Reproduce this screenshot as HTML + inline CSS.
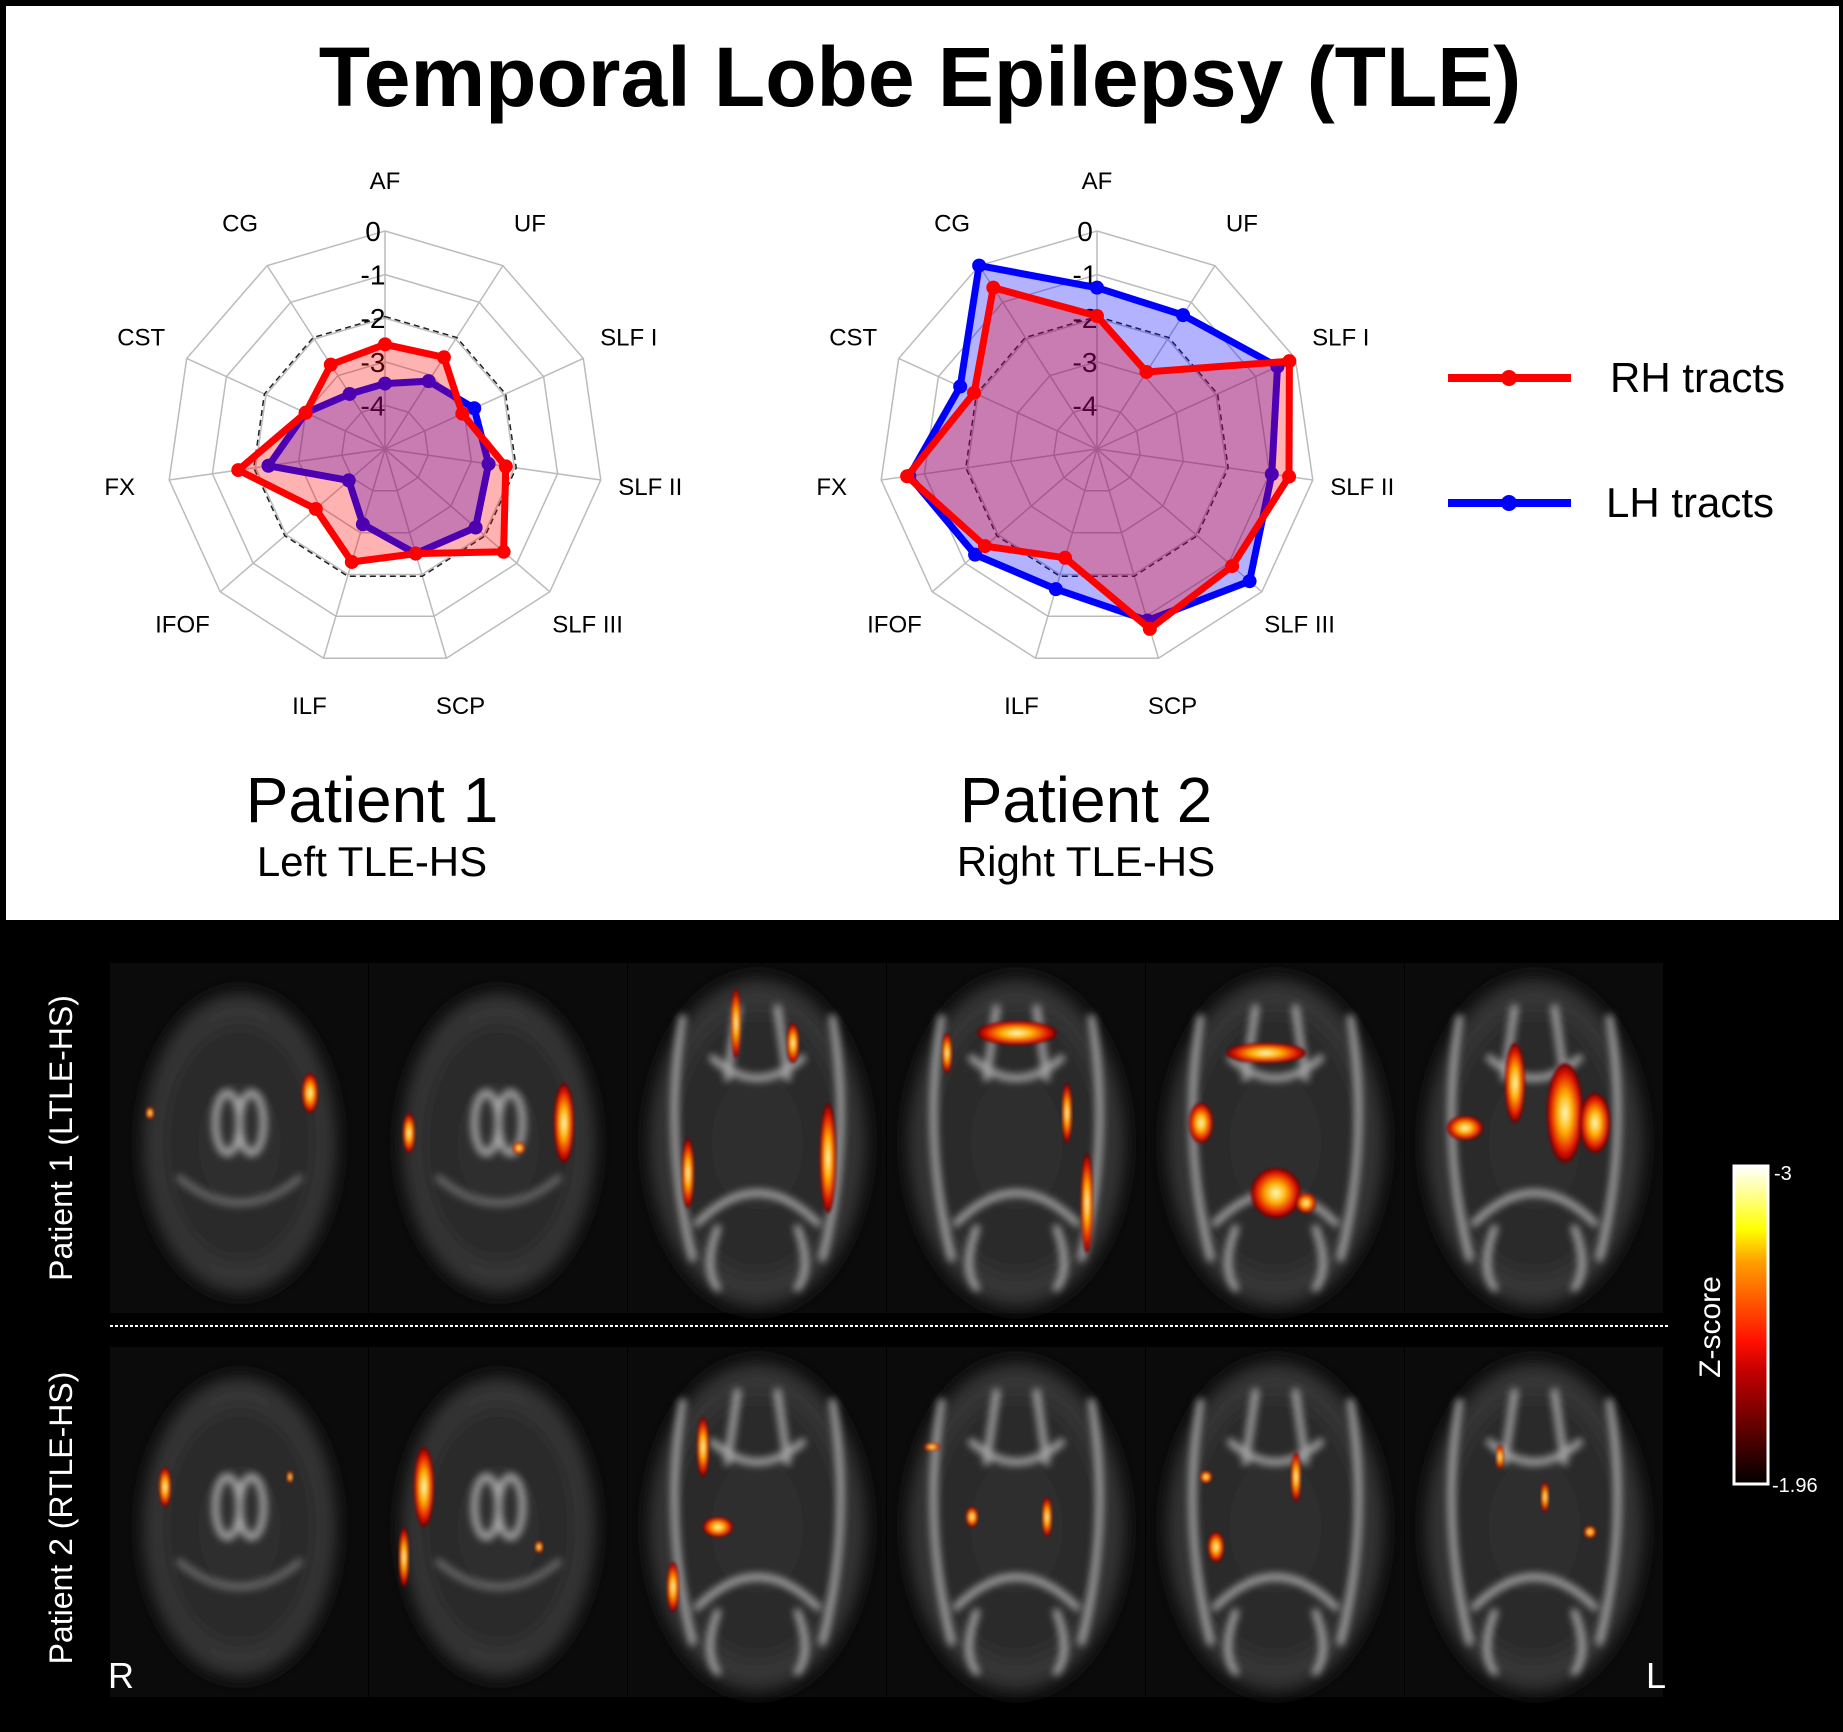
<!DOCTYPE html>
<html><head><meta charset="utf-8"><style>
html,body{margin:0;padding:0;background:#000}
svg{display:block}
text{font-family:"Liberation Sans",Arial,sans-serif}
</style></head><body>
<svg id="fig" width="1843" height="1732" viewBox="0 0 1843 1732" xmlns="http://www.w3.org/2000/svg">
<defs>
<filter id="blur6" x="-20%" y="-20%" width="140%" height="140%"><feGaussianBlur stdDeviation="8"/></filter>
<filter id="blur4" x="-20%" y="-20%" width="140%" height="140%"><feGaussianBlur stdDeviation="4"/></filter>
<filter id="blur2"><feGaussianBlur stdDeviation="1.5"/></filter>
<radialGradient id="brainG" cx="50%" cy="50%" r="50%">
<stop offset="0" stop-color="#303030"/><stop offset="0.7" stop-color="#2a2a2a"/><stop offset="0.9" stop-color="#3a3a3a"/><stop offset="1" stop-color="#0b0b0b"/></radialGradient>
<radialGradient id="hotG" cx="50%" cy="50%" r="50%">
<stop offset="0" stop-color="#ffffc0"/><stop offset="0.4" stop-color="#ffb000"/><stop offset="0.8" stop-color="#e01000"/><stop offset="1" stop-color="#600000"/></radialGradient>
<linearGradient id="cbar" x1="0" y1="1" x2="0" y2="0">
<stop offset="0" stop-color="#000"/><stop offset="0.35" stop-color="#c00000"/><stop offset="0.45" stop-color="#ff1000"/><stop offset="0.7" stop-color="#ffa000"/><stop offset="0.8" stop-color="#ffff00"/><stop offset="1" stop-color="#fff"/></linearGradient>
</defs>
<rect x="0" y="0" width="1843" height="1732" fill="#000"/>
<rect x="6" y="6" width="1833" height="914" fill="#fff"/>
<text x="920" y="106" text-anchor="middle" font-size="84" font-weight="bold">Temporal Lobe Epilepsy (TLE)</text>
<g id="radar1"></g>
<g id="radar2"></g>
<text x="372" y="822" text-anchor="middle" font-size="64">Patient 1</text>
<text x="372" y="876" text-anchor="middle" font-size="42">Left TLE-HS</text>
<text x="1086" y="822" text-anchor="middle" font-size="64">Patient 2</text>
<text x="1086" y="876" text-anchor="middle" font-size="42">Right TLE-HS</text>
<g>
<g>
<line x1="1448" y1="378" x2="1571" y2="378" stroke="#f00" stroke-width="8"/><circle cx="1509" cy="378" r="8" fill="#f00"/>
<text x="1610" y="392" font-size="42">RH tracts</text></g>
<g>
<line x1="1448" y1="503" x2="1571" y2="503" stroke="#00f" stroke-width="8"/><circle cx="1509" cy="503" r="8" fill="#00f"/>
<text x="1606" y="517" font-size="42">LH tracts</text></g>
</g>
<g id="brains"></g>
<line x1="110" y1="1326" x2="1670" y2="1326" stroke="#fff" stroke-width="2" stroke-dasharray="3,2"/>
<text transform="translate(72,1138) rotate(-90)" text-anchor="middle" fill="#fff" font-size="32">Patient 1 (LTLE-HS)</text>
<text transform="translate(72,1518) rotate(-90)" text-anchor="middle" fill="#fff" font-size="32">Patient 2 (RTLE-HS)</text>
<text x="108" y="1688" fill="#fff" font-size="36">R</text>
<text x="1646" y="1688" fill="#fff" font-size="36">L</text>
<rect x="1734" y="1166" width="34" height="318" fill="url(#cbar)" stroke="#fff" stroke-width="3"/>
<text x="1774" y="1180" fill="#fff" font-size="20">-3</text>
<text x="1772" y="1492" fill="#fff" font-size="20">-1.96</text>
<text transform="translate(1720,1327) rotate(-90)" text-anchor="middle" fill="#fff" font-size="30">Z-score</text>
</svg>
<script>
const tracts = ["AF","UF","SLF I","SLF II","SLF III","SCP","ILF","IFOF","FX","CST","CG"];
const ticks = [0,-1,-2,-3,-4];
const p1RH = [-2.6,-2.5,-3.05,-2.2,-1.4,-2.5,-2.3,-2.9,-1.6,-3.0,-2.7];
const p1LH = [-3.5,-3.15,-2.75,-2.6,-2.25,-2.5,-3.2,-3.9,-2.3,-3.0,-3.5];
const p2RH = [-1.95,-2.9,-0.15,-0.55,-0.9,-0.7,-2.4,-1.6,-0.6,-1.9,-0.6];
const p2LH = [-1.3,-1.35,-0.45,-0.95,-0.37,-0.9,-1.65,-1.3,-0.65,-1.55,0];
const threshold = -1.96;
const vMin = -5, vMax = 0;
const NS = "http://www.w3.org/2000/svg";
function mk(tag, attrs, parent){const e=document.createElementNS(NS,tag);for(const k in attrs)e.setAttribute(k,attrs[k]);parent.appendChild(e);return e;}
function rScale(v,R){return (v-vMin)/(vMax-vMin)*R;}
function pt(i,r,cx,cy){const a=i*2*Math.PI/tracts.length;return [cx+r*Math.sin(a),cy-r*Math.cos(a)];}
function poly(vals,R,cx,cy){return vals.map((v,i)=>pt(i,rScale(v,R),cx,cy).map(n=>n.toFixed(1)).join(",")).join(" ");}
function drawRadar(g,cx,cy,rh,lh){
  const R=218;
  const grid=mk("g",{},g);
  
  
  ticks.forEach(t=>{mk("polygon",{points:poly(tracts.map(()=>t),R,cx,cy),fill:"none",stroke:"#bbb","stroke-width":1.5},grid);});
  tracts.forEach((n,i)=>{const p=pt(i,R,cx,cy);mk("line",{x1:cx,y1:cy,x2:p[0],y2:p[1],stroke:"#bbb","stroke-width":1.5},grid);});
  const th=mk("polygon",{points:poly(tracts.map(()=>threshold),R,cx,cy),fill:"none",stroke:"#222","stroke-width":1.5,"stroke-dasharray":"6,4"},g);
  
  
  ticks.forEach(t=>{const tl=mk("text",{x:cx-12,y:cy-rScale(t,R)+10,"text-anchor":"middle","font-size":28},g);tl.textContent=String(t);
    
    });
  tracts.forEach((n,i)=>{const p=pt(i,268,cx,cy);const tl=mk("text",{x:p[0],y:p[1]+8,"text-anchor":"middle","font-size":24},g);tl.textContent=n;
    
    });
  [[lh,"#0000ff","rgba(0,0,255,0.3)","lh"],[rh,"#ff0000","rgba(255,0,0,0.3)","rh"]].forEach(([vals,col,fill,nm])=>{
    const s=mk("g",{},g);
    
    
    mk("polygon",{points:poly(vals,R,cx,cy),fill:fill,stroke:col,"stroke-width":7,"stroke-linejoin":"round"},s);
    vals.forEach((v,i)=>{const p=pt(i,rScale(v,R),cx,cy);const c=mk("circle",{cx:p[0],cy:p[1],r:7,fill:col},s);
      
      });
  });
}
drawRadar(document.getElementById("radar1"),385,449,p1RH,p1LH);
drawRadar(document.getElementById("radar2"),1097,449,p2RH,p2LH);

const brains=document.getElementById("brains");
const cellX0=110, cellW=259, rows=[963,1347], cellH=350;
const blobs1=[[[200,130,8,20],[40,150,4,6]],[[195,160,10,40],[40,170,6,20],[150,185,6,6]],[[108,60,5,35],[165,80,6,20],[200,195,8,55],[60,210,6,35]],[[130,70,40,12],[60,90,5,20],[180,150,5,30],[200,240,6,50]],[[120,90,40,10],[55,160,12,20],[130,230,25,25],[160,240,10,10]],[[110,120,10,40],[160,150,18,50],[60,165,18,12],[190,160,15,30]]];
const blobs2=[[[55,140,6,20],[180,130,3,6]],[[55,140,10,40],[35,210,5,30],[170,200,4,6]],[[75,100,6,30],[90,180,15,10],[45,240,6,25]],[[45,100,8,4],[85,170,6,10],[160,170,5,20]],[[60,130,6,6],[150,130,5,25],[70,200,8,15]],[[95,110,4,12],[140,150,4,15],[185,185,6,6]]];
for(let r=0;r<2;r++){
  for(let c=0;c<6;c++){
    const x=cellX0+c*cellW, y=rows[r];
    const g=mk("g",{},brains);
    
    
    mk("rect",{x:x,y:y,width:cellW-1,height:cellH,fill:"#0b0b0b"},g);
    const rx=c<2?100:112, ry=c<2?155:170;
    mk("ellipse",{cx:x+cellW/2,cy:y+cellH/2+5,rx:rx,ry:ry,fill:"url(#brainG)",filter:"url(#blur6)"},g);
    const wm=mk("g",{stroke:"#c8c8c8","stroke-width":7,fill:"none",filter:"url(#blur4)",opacity:0.8,"stroke-linecap":"round"},g);
    const cx=x+cellW/2, cy=y+cellH/2;
    if(c>=2){
      mk("path",{d:`M${cx-60} ${cy+85} Q${cx} ${cy+25} ${cx+60} ${cy+85}`},wm);
      mk("path",{d:`M${cx-45} ${cy-80} Q${cx} ${cy-40} ${cx+45} ${cy-80}`},wm);
      mk("path",{d:`M${cx-75} ${cy-120} Q${cx-95} ${cy} ${cx-65} ${cy+120}`},wm);
      mk("path",{d:`M${cx+75} ${cy-120} Q${cx+95} ${cy} ${cx+65} ${cy+120}`},wm);
      mk("path",{d:`M${cx-20} ${cy-130} L${cx-30} ${cy-60}`},wm);
      mk("path",{d:`M${cx+20} ${cy-130} L${cx+30} ${cy-60}`},wm);
      mk("path",{d:`M${cx-40} ${cy+90} Q${cx-55} ${cy+130} ${cx-40} ${cy+150}`},wm);
      mk("path",{d:`M${cx+40} ${cy+90} Q${cx+55} ${cy+130} ${cx+40} ${cy+150}`},wm);
    } else {
      mk("ellipse",{cx:cx-12,cy:cy-15,rx:12,ry:30},wm);
      mk("ellipse",{cx:cx+12,cy:cy-15,rx:12,ry:30},wm);
      mk("path",{d:`M${cx-60} ${cy+40} Q${cx} ${cy+90} ${cx+60} ${cy+40}`,opacity:0.5},wm);
    }
    const bl=(r===0?blobs1:blobs2)[c];
    bl.forEach(b=>{const e=mk("ellipse",{cx:x+b[0],cy:y+b[1],rx:b[2],ry:b[3],fill:"url(#hotG)",filter:"url(#blur2)"},g);
      
      });
  }
}
</script>
</body></html>
